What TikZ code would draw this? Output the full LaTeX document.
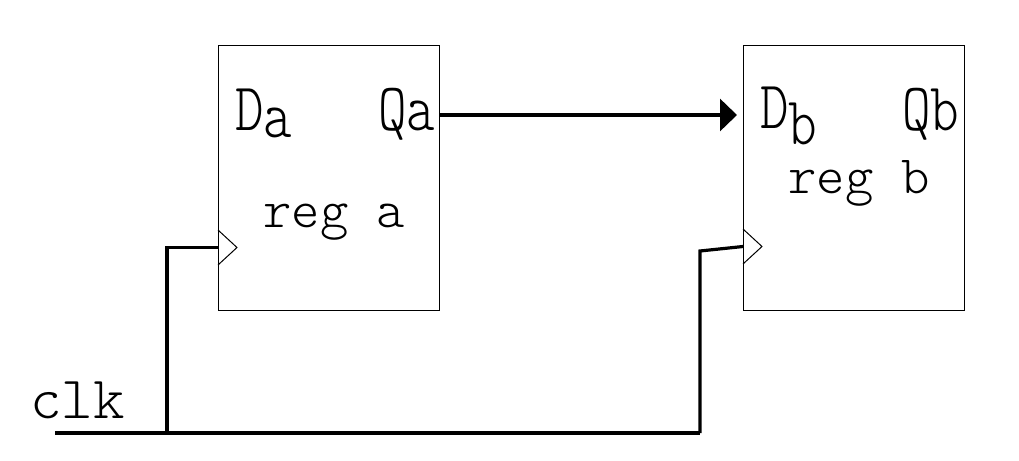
\documentclass[tikz,border=0pt]{standalone}
\usepackage{fontspec}
\usepackage{graphicx}
\usepackage{tikz}
\usetikzlibrary{arrows.meta, positioning, calc}
\newfontfamily\thinmono{lmmonolt10-regular.otf}

\begin{document}
\begin{tikzpicture}[
            x=0.5pt, y=-0.5pt,
            reg/.style={draw, rectangle, line width=0.5pt, minimum width=110.5pt, minimum height=132.5pt, inner sep=0pt},
            pin/.style={inner sep=0pt, anchor=base west, font=\fontsize{34pt}{40pt}\selectfont\thinmono},
            lbl/.style={inner sep=0pt, anchor=base west, font=\fontsize{27pt}{32pt}\selectfont\thinmono},
            wire/.style={line width=1.6pt},
            arrow/.style={-{Triangle[length=8.5pt, width=16pt]}, line width=1.6pt}
        ]
        \useasboundingbox (0,0) rectangle (1019,461);

        % --- Registers ---
        \node[reg] (rega) at (328.5, 177.5) {};
        \node[reg] (regb) at (854, 177.5) {};

        \node[pin] (da) at (235, 130) {\scalebox{0.8}[1]{D\smash{\raisebox{-3.5pt}{a}}}};
        \node[pin] (qa) at (378, 130) {\scalebox{0.8}[1]{Qa}};
        \node[pin] (db) at (760, 128) {\scalebox{0.8}[1]{D\smash{\raisebox{-8pt}{b}}}};
        \node[pin] (qb) at (902, 130) {\scalebox{0.8}[1]{Qb}};
        \node[lbl] (namea) at (263, 227) {reg a};
        \node[lbl] (nameb) at (788, 193) {reg b};

        % --- Data path ---
        \coordinate (outa) at (439, 115);
        \draw[arrow, shorten >=3pt] (outa) -- (regb.west |- outa);

        % --- Clock inputs ---
        \coordinate (clka) at (218, 247.5);
        \coordinate (clkb) at (743, 246.5);
        \draw[line width=0.5pt] (clka) ++(0,-17.5) -- ++(19,17.5) -- ++(-19,17.5);
        \draw[line width=0.5pt] (clkb) ++(0,-17.5) -- ++(19,17.5) -- ++(-19,17.5);

        % --- Clock net ---
        \node[lbl, font=\fontsize{30pt}{36pt}\selectfont\thinmono] (clk) at (30, 418) {clk};
        \coordinate (clkin) at (55, 433);
        \coordinate (tapa) at (167, 433);
        \coordinate (tapb) at (700, 433);
        \coordinate (bendb) at (700, 251);
        \draw[wire] (clkin) -- (tapb);
        \draw[wire] (tapa) |- (clka);
        \draw[wire] (tapb) -- (bendb) -- (clkb);

    \end{tikzpicture}
\end{document}
